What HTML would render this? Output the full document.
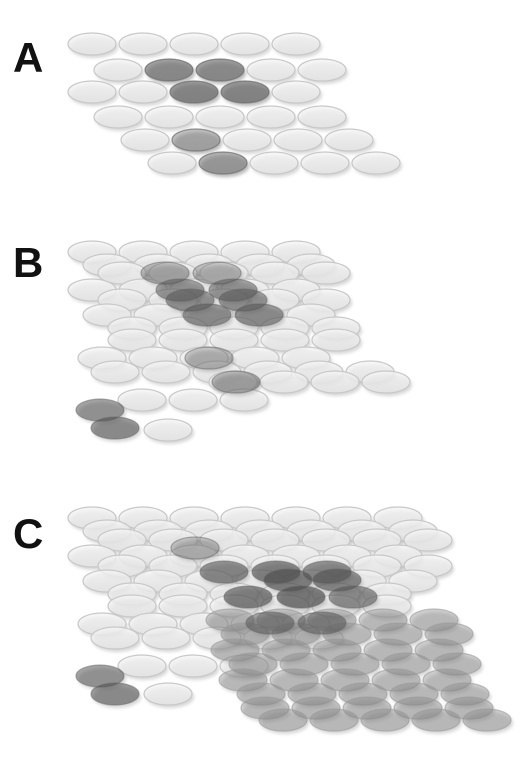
<!DOCTYPE html>
<html><head><meta charset="utf-8"><style>
html,body{margin:0;padding:0;background:#fff;width:528px;height:758px;overflow:hidden}
svg{display:block}
.lbl{font-family:"Liberation Sans",sans-serif;font-weight:bold;font-size:42px;fill:#111}
</style></head><body>
<svg id="fig" width="528" height="758" viewBox="0 0 528 758" xmlns="http://www.w3.org/2000/svg">
<defs>
<filter id="blur" x="-20%" y="-50%" width="140%" height="200%"><feGaussianBlur stdDeviation="1.6"/></filter>
<linearGradient id="lightFill" x1="0" y1="0" x2="0" y2="1"><stop offset="0" stop-color="#f6f6f6"/><stop offset="1" stop-color="#e6e6e6"/></linearGradient>
</defs>
<text class="lbl" x="13" y="72">A</text>
<text class="lbl" x="13" y="277">B</text>
<text class="lbl" x="13" y="548">C</text>
<g id="panelA"></g>
<g id="panelB"></g>
<g id="panelC"></g>
</svg>
<script>
// rows: [y, leftX, count]
const rowsA = [[44,67,5],[70,93,5],[92,67,5],[117,93,5],[140,120,5],[163,147,5]];
const darkA = [[169,70,.5],[220,70,.5],[194,92,.55],[245,92,.55],[196,140,.3],[223,163,.4]];
const rowsB = [[252,67,5],[265,82,5],[273,97,5],[290,67,5],[300,97,5],[315,82,5],[328,107,5],[340,107,5],[358,77,5],[372,90,6],[382,208,4],[400,117,3],[430,143,1]];
const darkB = [[165,273,.3],[217,273,.25],[180,290,.45],[233,290,.45],[190,300,.45],[243,300,.45],[207,315,.5],[259,315,.5],[209,358,.25],[236,382,.35],[100,410,.5],[115,428,.55]];
const rowsC = [[518,67,7],[531,82,7],[540,97,7],[556,67,7],[566,97,7],[581,82,7],[594,107,6],[606,107,6],[624,77,5],[638,90,5],[666,117,3],[694,143,1]];
const midC = [[620,205,5],[634,220,5],[650,210,5],[664,228,5],[680,218,5],[694,236,5],[708,240,5],[720,258,5]];
const darkC = [[195,548,.25],[224,572,.55],[276,572,.6],[327,572,.55],[288,580,.6],[337,580,.55],[248,597,.6],[301,597,.65],[353,597,.5],[270,623,.45],[322,623,.45],[100,676,.5],[115,694,.55]];

const NS = "http://www.w3.org/2000/svg";
const RX = 24, RY = 11, STEP = 51;

function well(g, cx, cy, kind, alpha) {
  const sh = document.createElementNS(NS, "ellipse");
  sh.setAttribute("cx", cx + 2); sh.setAttribute("cy", cy + 3);
  sh.setAttribute("rx", RX); sh.setAttribute("ry", RY);
  sh.setAttribute("fill", "#7a7a7a"); sh.setAttribute("opacity", 0.3);
  sh.setAttribute("filter", "url(#blur)");
  
  
  g.appendChild(sh);
  const e = document.createElementNS(NS, "ellipse");
  e.setAttribute("cx", cx); e.setAttribute("cy", cy);
  e.setAttribute("rx", RX); e.setAttribute("ry", RY);
  if (kind === "light") {
    e.setAttribute("fill", "url(#lightFill)"); e.setAttribute("fill-opacity", 0.8);
    e.setAttribute("stroke", "#c8c8c8");
  } else if (kind === "mid") {
    e.setAttribute("fill", "#8a8a8a"); e.setAttribute("fill-opacity", alpha);
    e.setAttribute("stroke", "#999"); e.setAttribute("stroke-opacity", 0.6);
  } else {
    e.setAttribute("fill", "#4a4a4a"); e.setAttribute("fill-opacity", alpha);
    e.setAttribute("stroke", "#666"); e.setAttribute("stroke-opacity", 0.5);
  }
  e.setAttribute("stroke-width", 1.2);
  
  
  g.appendChild(e);
}
function drawRows(g, rows, kind, alpha) {
  rows.forEach(r => { for (let i = 0; i < r[2]; i++) well(g, r[1] + 25 + i * STEP, r[0], kind, alpha); });
}
function drawDarks(g, list) { list.forEach(d => well(g, d[0], d[1], "dark", d[2])); }

const A = document.getElementById("panelA");
drawRows(A, rowsA, "light"); drawDarks(A, darkA);
const B = document.getElementById("panelB");
drawRows(B, rowsB, "light"); drawDarks(B, darkB);
const C = document.getElementById("panelC");
drawRows(C, rowsC, "light"); drawRows(C, midC, "mid", 0.4); drawDarks(C, darkC);
</script>
</body></html>
